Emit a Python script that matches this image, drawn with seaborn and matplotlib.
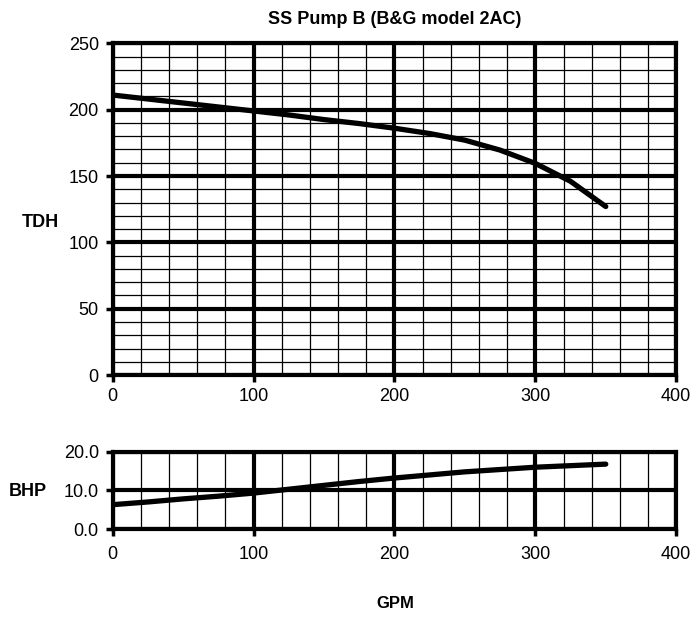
import numpy as np
import pandas as pd
import matplotlib.pyplot as plt
import seaborn as sns
from matplotlib.ticker import MultipleLocator, FormatStrFormatter

# pump curve
gpm = [0, 25, 50, 75, 100, 125, 150, 175, 200, 225, 250, 275, 300, 325, 350]
tdh = [211, 208, 205, 202, 199, 196, 192.5, 189.5, 186, 182, 177, 169.5, 159.5, 146, 127]
bhp = [6.3, 7.0, 7.8, 8.5, 9.3, 10.3, 11.3, 12.3, 13.2, 14.0, 14.8, 15.4, 16.0, 16.4, 16.8]

pump = pd.DataFrame({'GPM': gpm, 'TDH': tdh, 'BHP': bhp})

sns.set_style("white")
plt.rcParams['font.family'] = ['Liberation Sans', 'DejaVu Sans']
plt.rcParams['text.color'] = 'black'
plt.rcParams['xtick.color'] = 'black'
plt.rcParams['ytick.color'] = 'black'

fig = plt.figure(figsize=(7, 6.18), dpi=100)
ax1 = fig.add_axes([0.161, 0.393, 0.805, 0.537])
ax2 = fig.add_axes([0.161, 0.144, 0.805, 0.125])

def style_axis(ax, ymajor, yminor, xpad):
    ax.set_xlim(0, 400)
    ax.xaxis.set_major_locator(MultipleLocator(100))
    ax.xaxis.set_minor_locator(MultipleLocator(20))
    ax.yaxis.set_major_locator(MultipleLocator(ymajor))
    if yminor:
        ax.yaxis.set_minor_locator(MultipleLocator(yminor))
    ax.grid(which='major', color='black', linewidth=3)
    ax.grid(which='minor', color='black', linewidth=0.9)
    ax.set_axisbelow(True)
    for s in ax.spines.values():
        s.set_visible(True)
        s.set_color('black')
        s.set_linewidth(3)
    ax.tick_params(which='major', direction='out', length=5, width=2.5,
                   labelsize=13, bottom=True, left=True, pad=5)
    ax.tick_params(axis='x', which='major', pad=xpad)
    ax.tick_params(which='minor', length=0)
    ax.set_xlabel('')
    ax.set_ylabel('')

sns.lineplot(data=pump, x='GPM', y='TDH', ax=ax1, color='black', linewidth=3.8,
             solid_capstyle='round')
ax1.set_ylim(0, 250)
style_axis(ax1, 50, 10, 4)
ax1.set_title('SS Pump B (B&G model 2AC)', fontsize=13, fontweight='bold', pad=14)

sns.lineplot(data=pump, x='GPM', y='BHP', ax=ax2, color='black', linewidth=3.8,
             solid_capstyle='round')
ax2.set_ylim(0, 20)
style_axis(ax2, 10, None, 7)
ax2.yaxis.set_major_formatter(FormatStrFormatter('%.1f'))

fig.text(0.058, 0.64, 'TDH', fontsize=13, fontweight='bold', ha='center', va='center')
fig.text(0.040, 0.205, 'BHP', fontsize=13, fontweight='bold', ha='center', va='center')
fig.text(0.565, 0.023, 'GPM', fontsize=12, fontweight='bold', ha='center', va='center')

plt.savefig('out.png', dpi=100)
